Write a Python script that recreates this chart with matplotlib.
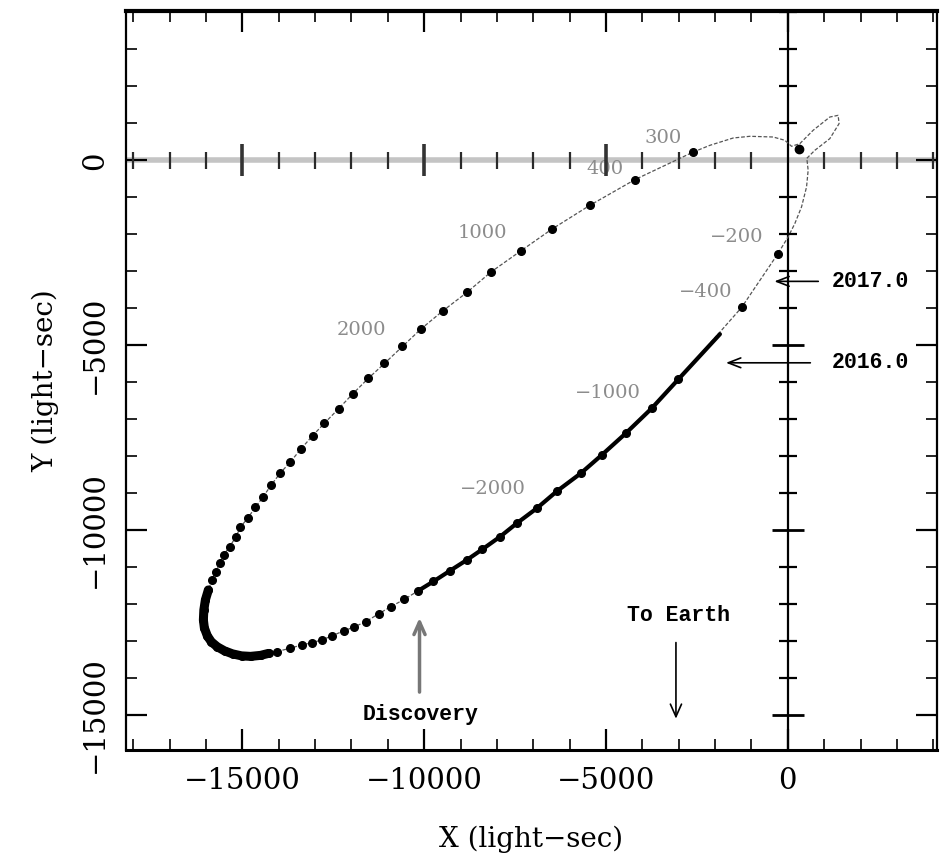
import matplotlib.pyplot as plt
import numpy as np
from matplotlib.ticker import MultipleLocator

# orbit (light-sec)
# after periastron, going out towards apastron
upper_x = [-2618, -4203, -5440, -6492, -7344, -8159, -8827, -9486, -10083, -10596,
           -11091, -11538, -11970, -12355, -12747, -13069, -13398, -13681, -13964, -14212,
           -14431, -14643, -14843, -15055, -15173, -15349, -15514, -15624, -15734, -15833]
upper_y = [216, -522, -1216, -1865, -2452, -3019, -3576, -4073, -4559, -5035,
           -5495, -5900, -6324, -6722, -7116, -7451, -7819, -8162, -8468, -8792,
           -9108, -9387, -9668, -9927, -10181, -10451, -10676, -10900, -11127, -11351]

# apastron, dots pile up here
apex_x = [-15934, -16016, -16058, -16071, -16044, -15962, -15852, -15686, -15489,
          -15269, -15022, -14775, -14500, -14280]
apex_y = [-11622, -11892, -12162, -12432, -12649, -12865, -13027, -13162, -13270,
          -13351, -13405, -13419, -13392, -13338]

# before periastron, from apastron back in
lower_x = [-14047, -13681, -13360, -13085, -12810, -12536, -12217, -11942, -11602, -11255,
           -10915, -10541, -10157, -9745, -9286, -8827, -8399, -7912, -7454, -6904,
           -6354, -5695, -5118, -4459, -3745, -3014, -1272, -283]
lower_y = [-13289, -13197, -13108, -13046, -12973, -12865, -12730, -12630, -12478, -12270,
           -12073, -11873, -11641, -11392, -11100, -10811, -10522, -10181, -9819, -9414,
           -8954, -8468, -7973, -7387, -6711, -5927, -3981, -2541]

# thin path round periastron (with the small loop)
peri_x = [8, 192, 376, 514, 558, 522, 742, 1154, 1409, 1382, 1154, 695, 330, 102, -82,
          -404, -1044, -1503, -2143]
peri_y = [-2073, -1711, -1262, -722, -270, 54, 270, 586, 992, 1216, 1170, 811, 451, 378, 541,
          630, 649, 603, 405]

star_x, star_y = 302, 297

# span covered by timing data: discovery -> 2016.0
seen_x = lower_x[12:26] + [-1868]
seen_y = lower_y[12:26] + [-4703]

# day labels
day_text = ['300', '400', '1000', '2000', '\u2212200', '\u2212400', '\u22121000', '\u22122000']
day_x = [-3430, -5030, -8390, -11730, -1400, -2250, -4940, -8100]
day_y = [600, -230, -1980, -4580, -2080, -3570, -6300, -8890]

fig = plt.figure(figsize=(9.47, 8.63), dpi=100)
ax = fig.add_axes([0.133, 0.131, 0.8564, 0.8559])
ax.set_xlim(-18200, 4100)
ax.set_ylim(-15950, 4030)

# zero lines with their own ticks (tick half-lengths in data units, ~8 and ~16 px)
ax.axhline(0, color='#c4c4c4', lw=4, zorder=1)
ax.axvline(0, color='black', lw=1.6, zorder=1)
minor_x = [x for x in range(-18000, 4001, 1000) if x % 5000 != 0]
major_x = [x for x in range(-15000, 4001, 5000) if x != 0]
minor_y = [y for y in range(-15000, 4001, 1000) if y % 5000 != 0]
major_y = [y for y in range(-15000, 4001, 5000) if y != 0]
ax.vlines(minor_x, -230, 230, colors='#2a2a2a', lw=1.6, zorder=6)
ax.vlines(major_x, -430, 430, colors='#333', lw=2.6, zorder=6)
ax.hlines(minor_y, -240, 240, colors='black', lw=1.6, zorder=6)
ax.hlines(major_y, -440, 440, colors='black', lw=2.0, zorder=6)

# orbit
path_x = lower_x + peri_x + upper_x + apex_x + lower_x[:1]
path_y = lower_y + peri_y + upper_y + apex_y + lower_y[:1]
ax.plot(path_x, path_y, color='#555', lw=0.9, ls=(0, (3, 1.5)), zorder=3)
ax.plot(apex_x, apex_y, color='black', lw=6.5, solid_capstyle='round', zorder=4)
ax.plot(seen_x, seen_y, color='black', lw=3, solid_capstyle='round', zorder=4)
ax.plot(upper_x + apex_x + lower_x, upper_y + apex_y + lower_y, 'o', color='black', ms=5.5,
        zorder=5)
ax.plot(star_x, star_y, 'o', color='black', ms=6, zorder=5)

for t, x, y in zip(day_text, day_x, day_y):
    ax.text(x, y, t, color='#8c8c8c', fontsize=14, family='DejaVu Serif',
            ha='center', va='center')

# arrows and notes
note = dict(family='Liberation Mono', weight='bold', fontsize=15.5)
ax.annotate('', xy=(-10128, -12300), xytext=(-10128, -14460),
            arrowprops=dict(arrowstyle='->,head_length=0.9,head_width=0.4', color='#777', lw=2.5))
ax.text(-10110, -15000, 'Discovery', ha='center', va='center', **note)
ax.annotate('', xy=(-3077, -15180), xytext=(-3077, -12970),
            arrowprops=dict(arrowstyle='->,head_length=0.9,head_width=0.4', color='black', lw=1.2))
ax.text(-3020, -12300, 'To Earth', ha='center', va='center', **note)
ax.annotate('', xy=(-448, -3275), xytext=(913, -3275),
            arrowprops=dict(arrowstyle='->,head_length=0.9,head_width=0.35', color='black', lw=1.2))
ax.text(1200, -3285, '2017.0', ha='left', va='center', **note)
ax.annotate('', xy=(-1778, -5478), xytext=(695, -5478),
            arrowprops=dict(arrowstyle='->,head_length=0.9,head_width=0.35', color='black', lw=1.2))
ax.text(1200, -5478, '2016.0', ha='left', va='center', **note)

# frame
for side, w in [('top', 3), ('bottom', 2.2), ('left', 1.6), ('right', 1.6)]:
    ax.spines[side].set_linewidth(w)
ax.xaxis.set_major_locator(MultipleLocator(5000))
ax.yaxis.set_major_locator(MultipleLocator(5000))
ax.xaxis.set_minor_locator(MultipleLocator(1000))
ax.yaxis.set_minor_locator(MultipleLocator(1000))
ax.tick_params(which='both', direction='in', top=True, right=True)
ax.tick_params(which='major', length=15, width=1.6, pad=12, labelsize=21)
ax.tick_params(which='minor', length=8, width=1.2)
for lab in ax.get_xticklabels() + ax.get_yticklabels():
    lab.set_family('DejaVu Serif')
ax.tick_params(axis='y', labelrotation=90)
for lab in ax.get_yticklabels():
    lab.set_va('center')
ax.set_xlabel('X (light\u2212sec)', family='DejaVu Serif', fontsize=20, labelpad=22)
ax.set_ylabel('Y (light\u2212sec)', family='DejaVu Serif', fontsize=20, labelpad=16)

fig.savefig('out.png', dpi=100)
